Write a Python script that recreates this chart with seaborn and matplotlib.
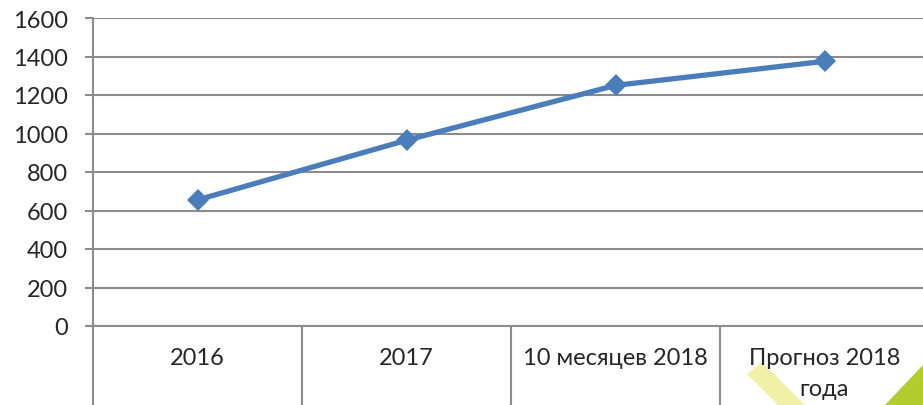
import numpy as np
import seaborn as sns
import matplotlib.pyplot as plt
import pandas as pd
from matplotlib.patches import Polygon

categories = ["2016", "2017", "10 месяцев 2018", "Прогноз 2018\nгода"]
values = [655, 965, 1250, 1375]
yticks = [0, 200, 400, 600, 800, 1000, 1200, 1400, 1600]

sns.set_theme(style="white")
plt.rcParams['font.family'] = ['Lato', 'DejaVu Sans']

W, H = 923, 406
fig = plt.figure(figsize=(W / 100, H / 100), dpi=100)
# axes spans from x=93px to 929px (cut off at the right), y=19px..327px
ax = fig.add_axes([93 / W, 1 - 327 / H, 836 / W, 308 / H])
ax.patch.set_alpha(0)

df = pd.DataFrame({"cat": categories, "val": values})
sns.lineplot(data=df, x="cat", y="val", ax=ax, color="#4a7ebb", linewidth=3.8,
             marker="D", markersize=11.5, markeredgewidth=0, sort=False)

grid_c = "#8c8c8c"
ax.set_ylim(0, 1600)
ax.set_yticks(yticks)
ax.set_xlim(-0.5, 3.5)
ax.yaxis.grid(True, color=grid_c, linewidth=1.5)
ax.set_axisbelow(True)
for s in ["top", "right"]:
    ax.spines[s].set_visible(False)
ax.spines["left"].set_color(grid_c)
ax.spines["left"].set_linewidth(1.5)
ax.spines["bottom"].set_color(grid_c)
ax.spines["bottom"].set_linewidth(1.5)

ax.tick_params(axis="y", direction="out", length=6, width=1.5, color=grid_c,
               labelsize=17, pad=12, left=True)
# category separators as long x ticks reaching the figure bottom
ax.set_xticks(np.arange(-0.5, 4, 1))
ax.set_xticklabels([])
ax.tick_params(axis="x", which="major", direction="out", length=79 * 0.72,
               width=1.5, color=grid_c, bottom=True)
ax.set_xticks(np.arange(len(categories)), minor=True)
ax.set_xticklabels(categories, minor=True, fontsize=17, va="top", linespacing=1.6)
ax.tick_params(axis="x", which="minor", length=0, pad=15)
ax.set_xlabel("")
ax.set_ylabel("")

# decorative shapes at the bottom right
def fpts(pts):
    return [(x / W, 1 - y / H) for x, y in pts]

fig.patches.append(Polygon(fpts([(747, 375), (762, 363), (805, 406), (778, 406)]),
                           closed=True, transform=fig.transFigure, facecolor="#f2f0a6",
                           edgecolor="none", zorder=-1))
fig.patches.append(Polygon(fpts([(885, 406), (923, 366), (923, 406)]),
                           closed=True, transform=fig.transFigure, facecolor="#b3cc2e",
                           edgecolor="none", zorder=-1))

fig.savefig("out.png", dpi=100)
